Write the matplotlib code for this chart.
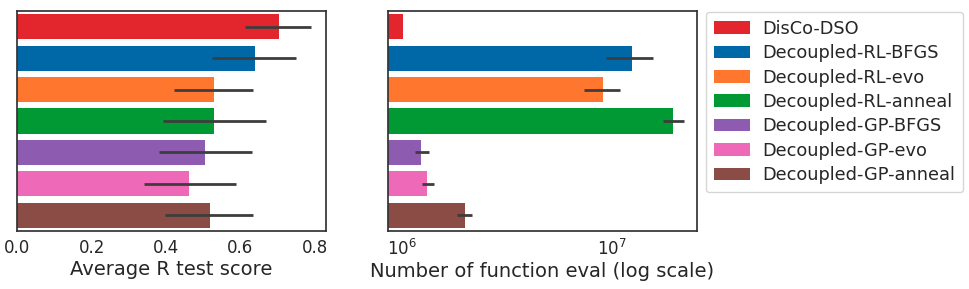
import matplotlib
matplotlib.use("Agg")
import matplotlib.pyplot as plt
import numpy as np
from matplotlib.patches import Patch

methods = ["DisCo-DSO", "Decoupled-RL-BFGS", "Decoupled-RL-evo", "Decoupled-RL-anneal",
           "Decoupled-GP-BFGS", "Decoupled-GP-evo", "Decoupled-GP-anneal"]
colors = ["#E3262E", "#0068A6", "#FF772E", "#009933", "#8D5BB0", "#EE6AB8", "#8B4C45"]

r_score = [0.705, 0.638, 0.529, 0.529, 0.506, 0.463, 0.517]
r_low = [0.613, 0.523, 0.421, 0.391, 0.380, 0.341, 0.397]
r_high = [0.790, 0.749, 0.634, 0.668, 0.632, 0.588, 0.634]

n_eval = [1.01e6, 1.25e7, 9.06e6, 1.95e7, 1.24e6, 1.32e6, 2.0e6]
n_low = [1.01e6, 9.36e6, 7.38e6, 1.76e7, 1.15e6, 1.25e6, 1.84e6]
n_high = [1.01e6, 1.57e7, 1.10e7, 2.20e7, 1.35e6, 1.42e6, 2.16e6]

fig = plt.figure(figsize=(9.69, 2.89), dpi=100)
ax1 = fig.add_axes([0.01785, 0.2007, 0.3183, 0.7613])
ax2 = fig.add_axes([0.3999, 0.2007, 0.3191, 0.7613])

y = np.arange(len(methods))
err_col = "#3d3d3d"

def draw(ax, vals, lo, hi):
    ax.barh(y, vals, height=0.8, color=colors, edgecolor="none")
    xerr = [np.array(vals) - np.array(lo), np.array(hi) - np.array(vals)]
    ax.errorbar(vals, y, xerr=xerr, fmt="none", ecolor=err_col, elinewidth=2, capsize=0)
    ax.set_ylim(6.5, -0.5)
    ax.set_yticks([])
    ax.tick_params(axis="x", length=0, labelsize=12, colors="#262626", pad=6)
    for s in ax.spines.values():
        s.set_color("#333333")
        s.set_linewidth(1.25)

draw(ax1, r_score, r_low, r_high)
ax1.set_xlim(0, 0.8295)
ax1.set_xticks([0.0, 0.2, 0.4, 0.6, 0.8])
ax1.set_xlabel("Average R test score", fontsize=14, color="#262626", labelpad=2)

ax2.set_xscale("log")
ax2.barh(y, n_eval, height=0.8, color=colors, edgecolor="none", left=1e3)
xerr = [np.array(n_eval) - np.array(n_low), np.array(n_high) - np.array(n_eval)]
ax2.errorbar(n_eval, y, xerr=xerr, fmt="none", ecolor=err_col, elinewidth=2, capsize=0)
ax2.set_ylim(6.5, -0.5)
ax2.set_yticks([])
ax2.set_xlim(8.55e5, 2.54e7)
ax2.set_xticks([1e6, 1e7])
ax2.minorticks_off()
ax2.tick_params(axis="x", which="both", length=0, labelsize=12, colors="#262626", pad=6)
for s in ax2.spines.values():
    s.set_color("#333333")
    s.set_linewidth(1.25)
ax2.set_xlabel("Number of function eval (log scale)", fontsize=14, color="#262626", labelpad=2)

handles = [Patch(facecolor=c, edgecolor="none") for c in colors]
leg = fig.legend(handles, methods, loc="upper left", bbox_to_anchor=(0.7283, 0.9595),
                 borderaxespad=0, fontsize=12.8, frameon=True, labelspacing=0.36,
                 handlelength=2.05, handleheight=0.7, handletextpad=0.7, borderpad=0.45)
for t in leg.get_texts():
    t.set_color("#262626")
leg.get_frame().set_edgecolor("#cccccc")

fig.savefig("out.png", dpi=100)
